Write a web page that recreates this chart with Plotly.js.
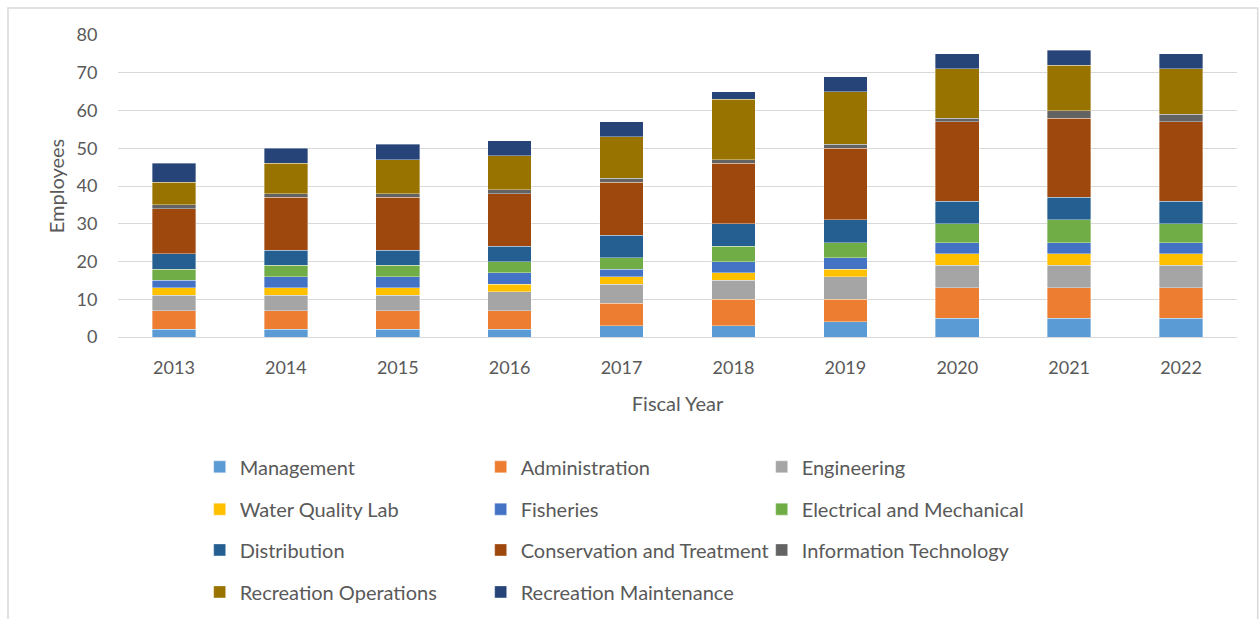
<!DOCTYPE html>
<html>
<head>
<meta charset="utf-8">
<script src="https://cdn.plot.ly/plotly-3.0.1.min.js"></script>
<style>html,body{margin:0;padding:0;background:#fff;}#chart{width:1259px;height:619px;}</style>
</head>
<body>
<div id="chart"></div>
<script>
const years = ["2013","2014","2015","2016","2017","2018","2019","2020","2021","2022"];
const management      = [2,2,2,2,3,3,4,5,5,5];
const administration  = [5,5,5,5,6,7,6,8,8,8];
const engineering     = [4,4,4,5,5,5,6,6,6,6];
const waterQualityLab = [2,2,2,2,2,2,2,3,3,3];
const fisheries       = [2,3,3,3,2,3,3,3,3,3];
const electrical      = [3,3,3,3,3,4,4,5,6,5];
const distribution    = [4,4,4,4,6,6,6,6,6,6];
const conservation    = [12,14,14,14,14,16,19,21,21,21];
const infoTech        = [1,1,1,1,1,1,1,1,2,2];
const recOperations   = [6,8,9,9,11,16,14,13,12,12];
const recMaintenance  = [5,4,4,4,4,2,4,4,4,4];

const seriesNames = ["Management","Administration","Engineering","Water Quality Lab","Fisheries",
  "Electrical and Mechanical","Distribution","Conservation and Treatment","Information Technology",
  "Recreation Operations","Recreation Maintenance"];
const seriesValues = [management,administration,engineering,waterQualityLab,fisheries,electrical,
  distribution,conservation,infoTech,recOperations,recMaintenance];
const colors = ["#5B9BD5","#ED7D31","#A5A5A5","#FFC000","#4472C4","#70AD47","#255E91","#9E480E",
  "#636363","#997300","#264478"];
const legendIds = ["legend","legend","legend","legend2","legend2","legend2","legend3","legend3","legend3","legend4","legend4"];

const traces = seriesNames.map((n,i)=>({
  type:"bar", name:n, x:years, y:seriesValues[i],
  marker:{color:colors[i], line:{color:"rgba(255,255,255,0.45)", width:0.8}},
  legend: legendIds[i], hoverinfo:"name+y"
}));

const font = {family:"Lato, 'Open Sans', sans-serif", color:"#595959"};
function leg(y){
  return {orientation:"h", x:0.073, xanchor:"left", y:y, yanchor:"middle",
    entrywidth:236, entrywidthmode:"pixels", traceorder:"normal",
    font:{family:font.family, color:font.color, size:20}, bgcolor:"rgba(0,0,0,0)"};
}
const layout = {
  width:1259, height:619,
  margin:{l:118, r:22, t:35, b:282, autoexpand:false},
  paper_bgcolor:"#fff", plot_bgcolor:"#fff",
  font:font,
  barmode:"stack", bargap:0.61,
  showlegend:true,
  xaxis:{type:"category", automargin:false, showgrid:false, showline:true, linecolor:"#d9d9d9", linewidth:1,
    ticks:"outside", ticklen:14, tickcolor:"rgba(0,0,0,0)",
    tickfont:{size:18, color:"#595959", family:font.family},
    title:{text:"Fiscal Year", font:{size:20, color:"#595959", family:font.family}, standoff:20}},
  yaxis:{range:[0,80], dtick:10, automargin:false, showgrid:true, gridcolor:"#d9d9d9", gridwidth:1, zeroline:false,
    showline:false, ticks:"outside", ticklen:16, tickcolor:"rgba(0,0,0,0)",
    tickfont:{size:18, color:"#595959", family:font.family},
    title:{text:"Employees", font:{size:20, color:"#595959", family:font.family}, standoff:6}},
  legend: leg(-0.430), legend2: leg(-0.570), legend3: leg(-0.705), legend4: leg(-0.844),
  shapes:[{type:"rect", xref:"paper", yref:"paper", x0:-0.0983, x1:1.0185, y0:-1.2, y1:1.089,
    line:{color:"#d9d9d9", width:1.5}, fillcolor:"rgba(0,0,0,0)", layer:"below"}]
};
Plotly.newPlot("chart", traces, layout, {displayModeBar:false, staticPlot:true});
</script>
</body>
</html>
